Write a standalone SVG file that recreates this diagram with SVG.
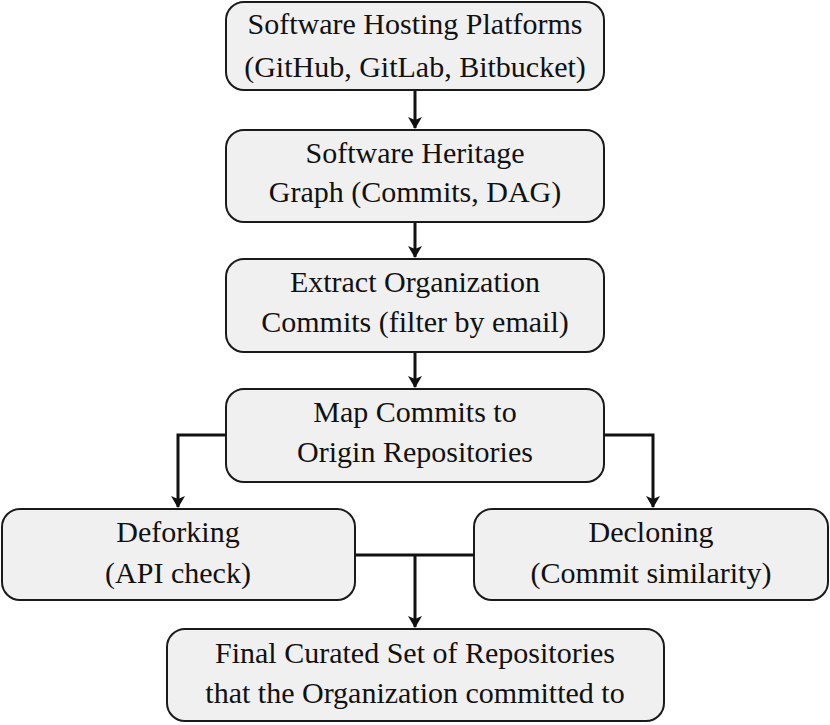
<svg xmlns="http://www.w3.org/2000/svg" width="830" height="725" viewBox="0 0 830 725">
<defs>
<style>
.box{fill:#f0f0f0;stroke:#1a1a1a;stroke-width:2}
.t{font-size:30px;fill:#111;text-anchor:middle}
.c{fill:none;stroke:#111;stroke-width:3}
</style>
<marker id="ah" viewBox="0 0 12 14" refX="11" refY="7" markerWidth="12" markerHeight="14" markerUnits="userSpaceOnUse" orient="auto">
<path d="M0,0 L12,7 L0,14 L3,7 Z" fill="#111"/>
</marker>
</defs>
<rect width="830" height="725" fill="#fff"/>
<g id="connectors">
<line class="c" x1="415" y1="91" x2="415" y2="128" marker-end="url(#ah)"/>
<line class="c" x1="415" y1="223" x2="415" y2="257" marker-end="url(#ah)"/>
<line class="c" x1="415" y1="353" x2="415" y2="387" marker-end="url(#ah)"/>
<polyline class="c" points="226,435 178,435 178,507" marker-end="url(#ah)"/>
<polyline class="c" points="604,435 653,435 653,507" marker-end="url(#ah)"/>
<line class="c" x1="355" y1="555" x2="474" y2="555"/>
<line class="c" x1="415" y1="555" x2="415" y2="627" marker-end="url(#ah)"/>
</g>
<g font-family="'Liberation Serif', 'DejaVu Serif', serif">
<g id="n1"><rect class="box" x="226" y="2" width="378" height="88" rx="18"/>
<text class="t" x="415" y="34">Software Hosting Platforms</text>
<text class="t" x="415" y="77">(GitHub, GitLab, Bitbucket)</text></g>
<g id="n2"><rect class="box" x="226" y="130" width="378" height="92" rx="18"/>
<text class="t" x="415" y="163">Software Heritage</text>
<text class="t" x="415" y="202">Graph (Commits, DAG)</text></g>
<g id="n3"><rect class="box" x="226" y="259" width="378" height="93" rx="18"/>
<text class="t" x="415" y="292">Extract Organization</text>
<text class="t" x="415" y="332">Commits (filter by email)</text></g>
<g id="n4"><rect class="box" x="226" y="389" width="378" height="93" rx="18"/>
<text class="t" x="415" y="422">Map Commits to</text>
<text class="t" x="415" y="462">Origin Repositories</text></g>
<g id="n5"><rect class="box" x="2" y="509" width="353" height="91" rx="18"/>
<text class="t" x="178" y="542">Deforking</text>
<text class="t" x="178" y="583">(API check)</text></g>
<g id="n6"><rect class="box" x="474" y="509" width="354" height="91" rx="18"/>
<text class="t" x="651" y="542">Decloning</text>
<text class="t" x="651" y="583">(Commit similarity)</text></g>
<g id="n7"><rect class="box" x="167" y="629" width="497" height="92" rx="18"/>
<text class="t" x="415" y="663">Final Curated Set of Repositories</text>
<text class="t" x="415" y="703">that the Organization committed to</text></g>
</g>
</svg>
